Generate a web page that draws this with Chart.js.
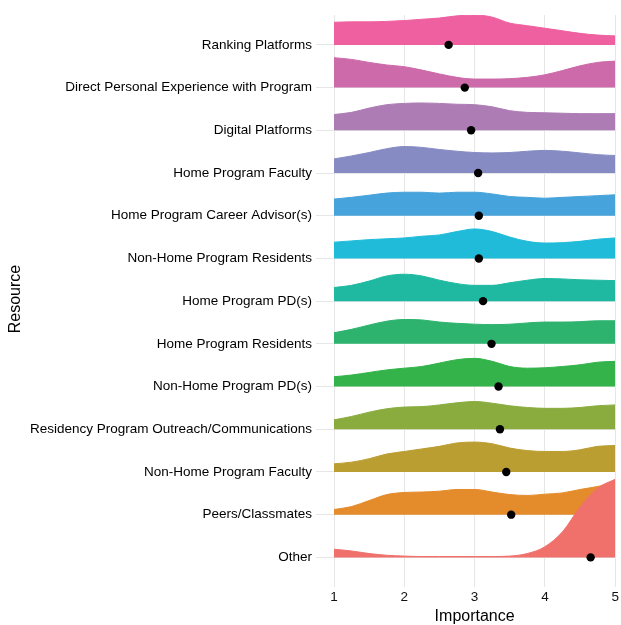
<!DOCTYPE html>
<html>
<head>
<meta charset="utf-8">
<script src="https://cdn.jsdelivr.net/npm/chart.js@4"></script>
<style>
  html, body { margin: 0; padding: 0; background: #fff; }
  #wrap { width: 621px; height: 625px; }
</style>
</head>
<body>
<div id="wrap"><canvas id="ridges" width="621" height="625"></canvas></div>
<script>
// resources, listed top to bottom as in the figure
const resources = [
  "Ranking Platforms",
  "Direct Personal Experience with Program",
  "Digital Platforms",
  "Home Program Faculty",
  "Home Program Career Advisor(s)",
  "Non-Home Program Residents",
  "Home Program PD(s)",
  "Home Program Residents",
  "Non-Home Program PD(s)",
  "Residency Program Outreach/Communications",
  "Non-Home Program Faculty",
  "Peers/Classmates",
  "Other"
];

// importance values where the ridge heights were read
const importance = [1, 1.25, 1.5, 1.75, 2, 2.25, 2.5, 2.75, 3, 3.25, 3.5, 3.75, 4, 4.25, 4.5, 4.75, 5];

// ridge heights (in row units) at each importance value
const rankingPlatforms   = [0.53, 0.54, 0.54, 0.55, 0.57, 0.60, 0.63, 0.68, 0.70, 0.65, 0.51, 0.45, 0.39, 0.33, 0.27, 0.23, 0.21];
const directExperience   = [0.70, 0.66, 0.59, 0.53, 0.49, 0.41, 0.32, 0.24, 0.20, 0.20, 0.21, 0.24, 0.30, 0.40, 0.51, 0.59, 0.62];
const digitalPlatforms   = [0.37, 0.42, 0.52, 0.60, 0.63, 0.64, 0.63, 0.61, 0.60, 0.55, 0.46, 0.42, 0.41, 0.40, 0.39, 0.39, 0.39];
const homeFaculty        = [0.33, 0.40, 0.48, 0.57, 0.62, 0.60, 0.55, 0.51, 0.48, 0.47, 0.48, 0.51, 0.53, 0.51, 0.47, 0.43, 0.41];
const homeCareerAdvisors = [0.39, 0.43, 0.48, 0.53, 0.55, 0.55, 0.53, 0.55, 0.55, 0.51, 0.45, 0.43, 0.41, 0.43, 0.45, 0.47, 0.49];
const nonHomeResidents   = [0.38, 0.41, 0.44, 0.46, 0.48, 0.52, 0.55, 0.63, 0.69, 0.63, 0.50, 0.40, 0.36, 0.37, 0.40, 0.45, 0.48];
const homePDs            = [0.32, 0.37, 0.47, 0.59, 0.63, 0.59, 0.49, 0.41, 0.37, 0.37, 0.43, 0.49, 0.53, 0.52, 0.50, 0.49, 0.48];
const homeResidents      = [0.26, 0.34, 0.44, 0.53, 0.57, 0.56, 0.51, 0.48, 0.46, 0.45, 0.46, 0.49, 0.51, 0.51, 0.52, 0.54, 0.54];
const nonHomePDs         = [0.23, 0.27, 0.33, 0.39, 0.43, 0.47, 0.55, 0.63, 0.66, 0.59, 0.47, 0.43, 0.44, 0.47, 0.51, 0.57, 0.59];
const outreach           = [0.22, 0.30, 0.40, 0.48, 0.52, 0.53, 0.57, 0.62, 0.65, 0.61, 0.55, 0.51, 0.49, 0.49, 0.51, 0.55, 0.57];
const nonHomeFaculty     = [0.19, 0.23, 0.31, 0.42, 0.48, 0.54, 0.60, 0.68, 0.70, 0.66, 0.56, 0.50, 0.48, 0.48, 0.52, 0.60, 0.62];
const peers              = [0.12, 0.19, 0.33, 0.47, 0.52, 0.53, 0.55, 0.59, 0.59, 0.53, 0.47, 0.45, 0.48, 0.51, 0.59, 0.66, 0.75];
const other              = [0.19, 0.15, 0.09, 0.05, 0.03, 0.02, 0.02, 0.02, 0.02, 0.02, 0.03, 0.09, 0.25, 0.60, 1.18, 1.62, 1.83];

const ridgeHeights = [
  rankingPlatforms, directExperience, digitalPlatforms, homeFaculty,
  homeCareerAdvisors, nonHomeResidents, homePDs, homeResidents,
  nonHomePDs, outreach, nonHomeFaculty, peers, other
];

// mean importance (black dots)
const means = [2.63, 2.86, 2.95, 3.05, 3.06, 3.06, 3.12, 3.24, 3.34, 3.36, 3.45, 3.52, 4.65];

const xTicks = [1, 2, 3, 4, 5];

const colors = [
  "#ef60a0", "#cd6aa9", "#ad7cb5", "#868bc3", "#46a3db", "#1fbbd9", "#1eb9a0",
  "#2eb36f", "#33b34a", "#8aac3f", "#bb9e32", "#e48b2b", "#f0716c"
];

const FONT = "Liberation Sans, Arial, Helvetica, sans-serif";
const n = resources.length;
const rowOf = i => n - 1 - i; // top row gets the highest y value

const datasets = [];

datasets.push({
  label: "mean",
  data: means.map((m, i) => ({ x: m, y: rowOf(i) })),
  showLine: false,
  pointRadius: 4.2,
  pointHoverRadius: 4.2,
  pointBackgroundColor: "#000",
  pointBorderWidth: 0,
  order: 0
});

ridgeHeights.forEach((h, i) => {
  const base = rowOf(i);
  datasets.push({
    label: resources[i],
    data: importance.map((x, k) => ({ x: x, y: base + h[k] })),
    borderColor: colors[i],
    backgroundColor: colors[i],
    borderWidth: 1,
    pointRadius: 0,
    cubicInterpolationMode: "monotone",
    fill: { value: base },
    order: 1 + base
  });
});

new Chart(document.getElementById("ridges"), {
  type: "line",
  data: { datasets },
  options: {
    responsive: false,
    animation: false,
    layout: { padding: { top: 15, right: -1, bottom: 0, left: 0 } },
    plugins: {
      legend: { display: false },
      tooltip: { enabled: false }
    },
    scales: {
      x: {
        type: "linear",
        min: 1,
        max: 5,
        afterBuildTicks: axis => { axis.ticks = xTicks.map(v => ({ value: v })); },
        afterFit: scale => { scale.height = 42; },
        grid: { color: "#e6e6e6", tickLength: 4, tickColor: "#e6e6e6" },
        border: { display: false },
        ticks: { color: "#111", padding: 2, font: { family: FONT, size: 13.5 } },
        title: {
          display: true,
          text: "Importance",
          color: "#000",
          padding: { top: 2, bottom: 0 },
          font: { family: FONT, size: 16, lineHeight: 1.0 }
        }
      },
      y: {
        type: "linear",
        min: -0.6,
        max: 12.7,
        afterBuildTicks: axis => { axis.ticks = resources.map((r, i) => ({ value: rowOf(i) })); },
        afterFit: scale => { scale.width = 334; },
        grid: { color: "#e6e6e6", tickLength: 18, tickColor: "#e6e6e6" },
        border: { display: false },
        ticks: {
          color: "#000",
          padding: 4,
          font: { family: FONT, size: 13.5 },
          callback: v => resources[n - 1 - v]
        },
        title: {
          display: true,
          text: "Resource",
          color: "#000",
          padding: { top: 8, bottom: 0 },
          font: { family: FONT, size: 16, lineHeight: 1.0 }
        }
      }
    }
  }
});
</script>
</body>
</html>
